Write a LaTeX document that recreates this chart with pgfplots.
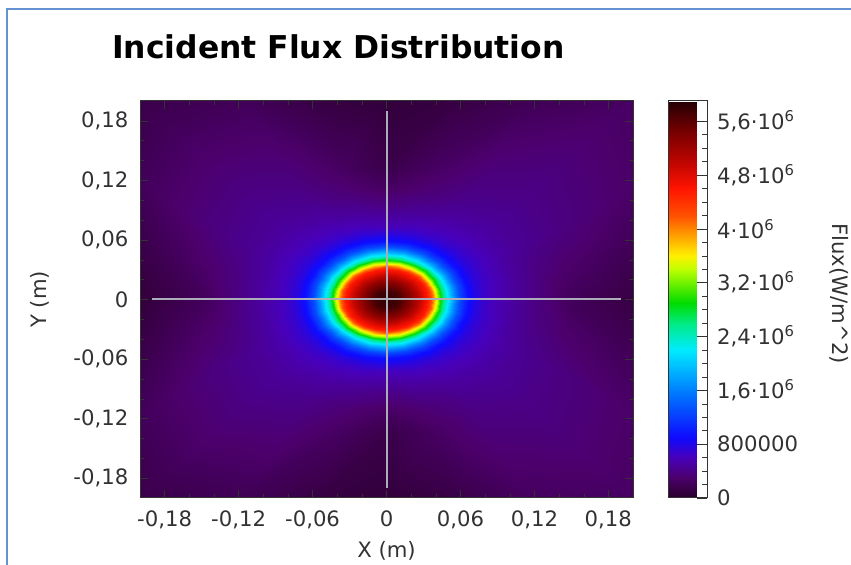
\documentclass[border=0pt]{standalone}
\usepackage{fontspec}
\setmainfont{DejaVu Sans}
\usepackage{pgfplots}
\pgfplotsset{compat=1.18}
\definecolor{labgray}{RGB}{50,50,50}
\definecolor{frameblue}{RGB}{100,145,210}
\definecolor{crossgray}{RGB}{172,172,186}
\begin{document}
\begin{tikzpicture}
\begin{axis}[
  at={(70pt,33.5pt)}, anchor=south west,
  scale only axis, width=246.5pt, height=198.5pt,
  xmin=-0.2, xmax=0.2, ymin=-0.2, ymax=0.2,
  enlargelimits=false, axis on top, scaled ticks=false,
  xtick={-0.18,-0.12,-0.06,0,0.06,0.12,0.18},
  ytick={-0.18,-0.12,-0.06,0,0.06,0.12,0.18},
  xticklabels={{-0,18},{-0,12},{-0,06},0,{0,06},{0,12},{0,18}},
  yticklabels={{-0,18},{-0,12},{-0,06},0,{0,06},{0,12},{0,18}},
  minor x tick num=2, minor y tick num=2,
  tick align=inside, major tick length=4pt, minor tick length=2pt,
  tick style={black!80},
  axis line style={black!80, line width=0.5pt},
  tick label style={font=\fontsize{10.6}{12}\selectfont, text=labgray},
  xticklabel style={yshift=-2.7pt},
  yticklabel style={xshift=-2.3pt},
  xlabel={X (m)}, ylabel={Y (m)},
  label style={font=\fontsize{10.6}{12}\selectfont, text=labgray},
  xlabel style={at={(axis description cs:0.5,-0.149)}, anchor=base},
  ylabel style={at={(axis description cs:-0.19,0.5)}, anchor=base},
  colormap={flux}{rgb255(0pt)=(42,0,48); rgb255(10pt)=(52,0,62); rgb255(30pt)=(76,0,108); rgb255(60pt)=(72,0,185); rgb255(90pt)=(15,10,255); rgb255(150pt)=(0,110,255); rgb255(220pt)=(0,235,255); rgb255(260pt)=(0,235,130); rgb255(290pt)=(0,220,0); rgb255(340pt)=(190,255,0); rgb255(360pt)=(255,240,0); rgb255(390pt)=(255,160,0); rgb255(420pt)=(255,80,0); rgb255(460pt)=(255,20,0); rgb255(500pt)=(190,5,0); rgb255(550pt)=(110,0,0); rgb255(590pt)=(35,0,5)},
  point meta min=0, point meta max=5900000,
  colorbar,
  colorbar style={
    at={(parent axis.north east)}, anchor=north west, xshift=9pt,
    scale only axis, width=19.5pt, height=198.5pt,
    scaled y ticks=false,
    ytick={0,800000,1600000,2400000,3200000,4000000,4800000,5600000},
    yticklabels={0,800000,{1,6·10\textsuperscript{6}},{2,4·10\textsuperscript{6}},{3,2·10\textsuperscript{6}},{4·10\textsuperscript{6}},{4,8·10\textsuperscript{6}},{5,6·10\textsuperscript{6}}},
    minor y tick num=3,
    ytick pos=right, yticklabel pos=right,
    tick align=inside, major tick length=5pt, minor tick length=2.5pt,
    tick style={black!80},
    axis line style={black!80, line width=0.5pt},
    yticklabel style={font=\fontsize{10.6}{12}\selectfont, text=labgray, xshift=1.5pt},
  },
]
\addplot[surf, shader=interp, mesh/rows=20, mesh/cols=25, point meta=explicit]
table[row sep=\\, x=x, y=y, meta=v] {
x y v\\
0 0 5.85e6\\ 0 0 5.85e6\\ 0 0 5.85e6\\ 0 0 5.85e6\\ 0 0 5.85e6\\ 0 0 5.85e6\\ 0 0 5.85e6\\ 0 0 5.85e6\\ 0 0 5.85e6\\ 0 0 5.85e6\\ 0 0 5.85e6\\ 0 0 5.85e6\\ 0 0 5.85e6\\ 0 0 5.85e6\\ 0 0 5.85e6\\ 0 0 5.85e6\\ 0 0 5.85e6\\ 0 0 5.85e6\\ 0 0 5.85e6\\ 0 0 5.85e6\\ 0 0 5.85e6\\ 0 0 5.85e6\\ 0 0 5.85e6\\ 0 0 5.85e6\\ 0 0 5.85e6\\
0.01 0 5.72e6\\ 0.00966 0.00233 5.72e6\\ 0.00866 0.0045 5.72e6\\ 0.00707 0.00636 5.72e6\\ 0.005 0.00779 5.72e6\\ 0.00259 0.00869 5.72e6\\ 0 0.009 5.72e6\\ -0.00259 0.00869 5.72e6\\ -0.005 0.00779 5.72e6\\ -0.00707 0.00636 5.72e6\\ -0.00866 0.0045 5.72e6\\ -0.00966 0.00233 5.72e6\\ -0.01 0 5.72e6\\ -0.00966 -0.00233 5.72e6\\ -0.00866 -0.0045 5.72e6\\ -0.00707 -0.00636 5.72e6\\ -0.005 -0.00779 5.72e6\\ -0.00259 -0.00869 5.72e6\\ 0 -0.009 5.72e6\\ 0.00259 -0.00869 5.72e6\\ 0.005 -0.00779 5.72e6\\ 0.00707 -0.00636 5.72e6\\ 0.00866 -0.0045 5.72e6\\ 0.00966 -0.00233 5.72e6\\ 0.01 0 5.72e6\\
0.02 0 5.32e6\\ 0.01932 0.00466 5.32e6\\ 0.01732 0.009 5.32e6\\ 0.01414 0.01273 5.32e6\\ 0.01 0.01559 5.32e6\\ 0.00518 0.01739 5.32e6\\ 0 0.018 5.32e6\\ -0.00518 0.01739 5.32e6\\ -0.01 0.01559 5.32e6\\ -0.01414 0.01273 5.32e6\\ -0.01732 0.009 5.32e6\\ -0.01932 0.00466 5.32e6\\ -0.02 0 5.32e6\\ -0.01932 -0.00466 5.32e6\\ -0.01732 -0.009 5.32e6\\ -0.01414 -0.01273 5.32e6\\ -0.01 -0.01559 5.32e6\\ -0.00518 -0.01739 5.32e6\\ 0 -0.018 5.32e6\\ 0.00518 -0.01739 5.32e6\\ 0.01 -0.01559 5.32e6\\ 0.01414 -0.01273 5.32e6\\ 0.01732 -0.009 5.32e6\\ 0.01932 -0.00466 5.32e6\\ 0.02 0 5.32e6\\
0.027 0 4.95e6\\ 0.02608 0.00629 4.95e6\\ 0.02338 0.01215 4.95e6\\ 0.01909 0.01718 4.95e6\\ 0.0135 0.02104 4.95e6\\ 0.00699 0.02347 4.95e6\\ 0 0.0243 4.95e6\\ -0.00699 0.02347 4.95e6\\ -0.0135 0.02104 4.95e6\\ -0.01909 0.01718 4.95e6\\ -0.02338 0.01215 4.95e6\\ -0.02608 0.00629 4.95e6\\ -0.027 0 4.95e6\\ -0.02608 -0.00629 4.95e6\\ -0.02338 -0.01215 4.95e6\\ -0.01909 -0.01718 4.95e6\\ -0.0135 -0.02104 4.95e6\\ -0.00699 -0.02347 4.95e6\\ 0 -0.0243 4.95e6\\ 0.00699 -0.02347 4.95e6\\ 0.0135 -0.02104 4.95e6\\ 0.01909 -0.01718 4.95e6\\ 0.02338 -0.01215 4.95e6\\ 0.02608 -0.00629 4.95e6\\ 0.027 0 4.95e6\\
0.034 0 4.55e6\\ 0.03284 0.00792 4.55e6\\ 0.02944 0.0153 4.55e6\\ 0.02404 0.02164 4.55e6\\ 0.017 0.0265 4.55e6\\ 0.0088 0.02956 4.55e6\\ 0 0.0306 4.55e6\\ -0.0088 0.02956 4.55e6\\ -0.017 0.0265 4.55e6\\ -0.02404 0.02164 4.55e6\\ -0.02944 0.0153 4.55e6\\ -0.03284 0.00792 4.55e6\\ -0.034 0 4.55e6\\ -0.03284 -0.00792 4.55e6\\ -0.02944 -0.0153 4.55e6\\ -0.02404 -0.02164 4.55e6\\ -0.017 -0.0265 4.55e6\\ -0.0088 -0.02956 4.55e6\\ 0 -0.0306 4.55e6\\ 0.0088 -0.02956 4.55e6\\ 0.017 -0.0265 4.55e6\\ 0.02404 -0.02164 4.55e6\\ 0.02944 -0.0153 4.55e6\\ 0.03284 -0.00792 4.55e6\\ 0.034 0 4.55e6\\
0.037 0 4.15e6\\ 0.03574 0.00862 4.15e6\\ 0.03204 0.01665 4.15e6\\ 0.02616 0.02355 4.15e6\\ 0.0185 0.02884 4.15e6\\ 0.00958 0.03216 4.15e6\\ 0 0.0333 4.15e6\\ -0.00958 0.03216 4.15e6\\ -0.0185 0.02884 4.15e6\\ -0.02616 0.02355 4.15e6\\ -0.03204 0.01665 4.15e6\\ -0.03574 0.00862 4.15e6\\ -0.037 0 4.15e6\\ -0.03574 -0.00862 4.15e6\\ -0.03204 -0.01665 4.15e6\\ -0.02616 -0.02355 4.15e6\\ -0.0185 -0.02884 4.15e6\\ -0.00958 -0.03216 4.15e6\\ 0 -0.0333 4.15e6\\ 0.00958 -0.03216 4.15e6\\ 0.0185 -0.02884 4.15e6\\ 0.02616 -0.02355 4.15e6\\ 0.03204 -0.01665 4.15e6\\ 0.03574 -0.00862 4.15e6\\ 0.037 0 4.15e6\\
0.04 0 3.65e6\\ 0.03864 0.00932 3.65e6\\ 0.03464 0.018 3.65e6\\ 0.02828 0.02546 3.65e6\\ 0.02 0.03118 3.65e6\\ 0.01035 0.03477 3.65e6\\ 0 0.036 3.65e6\\ -0.01035 0.03477 3.65e6\\ -0.02 0.03118 3.65e6\\ -0.02828 0.02546 3.65e6\\ -0.03464 0.018 3.65e6\\ -0.03864 0.00932 3.65e6\\ -0.04 0 3.65e6\\ -0.03864 -0.00932 3.65e6\\ -0.03464 -0.018 3.65e6\\ -0.02828 -0.02546 3.65e6\\ -0.02 -0.03118 3.65e6\\ -0.01035 -0.03477 3.65e6\\ 0 -0.036 3.65e6\\ 0.01035 -0.03477 3.65e6\\ 0.02 -0.03118 3.65e6\\ 0.02828 -0.02546 3.65e6\\ 0.03464 -0.018 3.65e6\\ 0.03864 -0.00932 3.65e6\\ 0.04 0 3.65e6\\
0.043 0 3.10e6\\ 0.04153 0.01002 3.10e6\\ 0.03724 0.01935 3.10e6\\ 0.03041 0.02736 3.10e6\\ 0.0215 0.03351 3.10e6\\ 0.01113 0.03738 3.10e6\\ 0 0.0387 3.10e6\\ -0.01113 0.03738 3.10e6\\ -0.0215 0.03351 3.10e6\\ -0.03041 0.02736 3.10e6\\ -0.03724 0.01935 3.10e6\\ -0.04153 0.01002 3.10e6\\ -0.043 0 3.10e6\\ -0.04153 -0.01002 3.10e6\\ -0.03724 -0.01935 3.10e6\\ -0.03041 -0.02736 3.10e6\\ -0.0215 -0.03351 3.10e6\\ -0.01113 -0.03738 3.10e6\\ 0 -0.0387 3.10e6\\ 0.01113 -0.03738 3.10e6\\ 0.0215 -0.03351 3.10e6\\ 0.03041 -0.02736 3.10e6\\ 0.03724 -0.01935 3.10e6\\ 0.04153 -0.01002 3.10e6\\ 0.043 0 3.10e6\\
0.046 0 2.65e6\\ 0.04443 0.01071 2.65e6\\ 0.03984 0.0207 2.65e6\\ 0.03253 0.02927 2.65e6\\ 0.023 0.03585 2.65e6\\ 0.0119 0.03999 2.65e6\\ 0 0.0414 2.65e6\\ -0.0119 0.03999 2.65e6\\ -0.023 0.03585 2.65e6\\ -0.03253 0.02927 2.65e6\\ -0.03984 0.0207 2.65e6\\ -0.04443 0.01071 2.65e6\\ -0.046 0 2.65e6\\ -0.04443 -0.01071 2.65e6\\ -0.03984 -0.0207 2.65e6\\ -0.03253 -0.02927 2.65e6\\ -0.023 -0.03585 2.65e6\\ -0.0119 -0.03999 2.65e6\\ 0 -0.0414 2.65e6\\ 0.0119 -0.03999 2.65e6\\ 0.023 -0.03585 2.65e6\\ 0.03253 -0.02927 2.65e6\\ 0.03984 -0.0207 2.65e6\\ 0.04443 -0.01071 2.65e6\\ 0.046 0 2.65e6\\
0.05 0 2.20e6\\ 0.0483 0.01165 2.20e6\\ 0.0433 0.0225 2.20e6\\ 0.03536 0.03182 2.20e6\\ 0.025 0.03897 2.20e6\\ 0.01294 0.04347 2.20e6\\ 0 0.045 2.20e6\\ -0.01294 0.04347 2.20e6\\ -0.025 0.03897 2.20e6\\ -0.03536 0.03182 2.20e6\\ -0.0433 0.0225 2.20e6\\ -0.0483 0.01165 2.20e6\\ -0.05 0 2.20e6\\ -0.0483 -0.01165 2.20e6\\ -0.0433 -0.0225 2.20e6\\ -0.03536 -0.03182 2.20e6\\ -0.025 -0.03897 2.20e6\\ -0.01294 -0.04347 2.20e6\\ 0 -0.045 2.20e6\\ 0.01294 -0.04347 2.20e6\\ 0.025 -0.03897 2.20e6\\ 0.03536 -0.03182 2.20e6\\ 0.0433 -0.0225 2.20e6\\ 0.0483 -0.01165 2.20e6\\ 0.05 0 2.20e6\\
0.055 0 1.70e6\\ 0.05312 0.01281 1.70e6\\ 0.04763 0.02475 1.70e6\\ 0.03889 0.035 1.70e6\\ 0.0275 0.04287 1.70e6\\ 0.01423 0.04781 1.70e6\\ 0 0.0495 1.70e6\\ -0.01423 0.04781 1.70e6\\ -0.0275 0.04287 1.70e6\\ -0.03889 0.035 1.70e6\\ -0.04763 0.02475 1.70e6\\ -0.05312 0.01281 1.70e6\\ -0.055 0 1.70e6\\ -0.05312 -0.01281 1.70e6\\ -0.04763 -0.02475 1.70e6\\ -0.03889 -0.035 1.70e6\\ -0.0275 -0.04287 1.70e6\\ -0.01423 -0.04781 1.70e6\\ 0 -0.0495 1.70e6\\ 0.01423 -0.04781 1.70e6\\ 0.0275 -0.04287 1.70e6\\ 0.03889 -0.035 1.70e6\\ 0.04763 -0.02475 1.70e6\\ 0.05312 -0.01281 1.70e6\\ 0.055 0 1.70e6\\
0.06 0 1.28e6\\ 0.05795 0.01398 1.28e6\\ 0.05196 0.027 1.28e6\\ 0.04243 0.03818 1.28e6\\ 0.03 0.04676 1.28e6\\ 0.01553 0.05216 1.28e6\\ 0 0.054 1.28e6\\ -0.01553 0.05216 1.28e6\\ -0.03 0.04676 1.28e6\\ -0.04243 0.03818 1.28e6\\ -0.05196 0.027 1.28e6\\ -0.05795 0.01398 1.28e6\\ -0.06 0 1.28e6\\ -0.05795 -0.01398 1.28e6\\ -0.05196 -0.027 1.28e6\\ -0.04243 -0.03818 1.28e6\\ -0.03 -0.04676 1.28e6\\ -0.01553 -0.05216 1.28e6\\ 0 -0.054 1.28e6\\ 0.01553 -0.05216 1.28e6\\ 0.03 -0.04676 1.28e6\\ 0.04243 -0.03818 1.28e6\\ 0.05196 -0.027 1.28e6\\ 0.05795 -0.01398 1.28e6\\ 0.06 0 1.28e6\\
0.066 0 0.95e6\\ 0.06375 0.01537 0.95e6\\ 0.05716 0.0297 0.95e6\\ 0.04667 0.042 0.95e6\\ 0.033 0.05144 0.95e6\\ 0.01708 0.05737 0.95e6\\ 0 0.0594 0.95e6\\ -0.01708 0.05737 0.95e6\\ -0.033 0.05144 0.95e6\\ -0.04667 0.042 0.95e6\\ -0.05716 0.0297 0.95e6\\ -0.06375 0.01537 0.95e6\\ -0.066 0 0.95e6\\ -0.06375 -0.01537 0.95e6\\ -0.05716 -0.0297 0.95e6\\ -0.04667 -0.042 0.95e6\\ -0.033 -0.05144 0.95e6\\ -0.01708 -0.05737 0.95e6\\ 0 -0.0594 0.95e6\\ 0.01708 -0.05737 0.95e6\\ 0.033 -0.05144 0.95e6\\ 0.04667 -0.042 0.95e6\\ 0.05716 -0.0297 0.95e6\\ 0.06375 -0.01537 0.95e6\\ 0.066 0 0.95e6\\
0.073 0 0.78e6\\ 0.07051 0.017 0.78e6\\ 0.06322 0.03285 0.79e6\\ 0.05162 0.04646 0.79e6\\ 0.0365 0.0569 0.78e6\\ 0.01889 0.06346 0.77e6\\ 0 0.0657 0.76e6\\ -0.01889 0.06346 0.77e6\\ -0.0365 0.0569 0.78e6\\ -0.05162 0.04646 0.79e6\\ -0.06322 0.03285 0.79e6\\ -0.07051 0.017 0.78e6\\ -0.073 0 0.78e6\\ -0.07051 -0.017 0.78e6\\ -0.06322 -0.03285 0.79e6\\ -0.05162 -0.04646 0.79e6\\ -0.0365 -0.0569 0.78e6\\ -0.01889 -0.06346 0.77e6\\ 0 -0.0657 0.76e6\\ 0.01889 -0.06346 0.77e6\\ 0.0365 -0.0569 0.78e6\\ 0.05162 -0.04646 0.79e6\\ 0.06322 -0.03285 0.79e6\\ 0.07051 -0.017 0.78e6\\ 0.073 0 0.78e6\\
0.08 0 0.66e6\\ 0.07727 0.01863 0.67e6\\ 0.06928 0.036 0.69e6\\ 0.05657 0.05091 0.69e6\\ 0.04 0.06235 0.67e6\\ 0.0207 0.06954 0.65e6\\ 0 0.072 0.62e6\\ -0.0207 0.06954 0.65e6\\ -0.04 0.06235 0.67e6\\ -0.05657 0.05091 0.69e6\\ -0.06928 0.036 0.69e6\\ -0.07727 0.01863 0.67e6\\ -0.08 0 0.66e6\\ -0.07727 -0.01863 0.67e6\\ -0.06928 -0.036 0.69e6\\ -0.05657 -0.05091 0.69e6\\ -0.04 -0.06235 0.67e6\\ -0.0207 -0.06954 0.65e6\\ 0 -0.072 0.62e6\\ 0.0207 -0.06954 0.65e6\\ 0.04 -0.06235 0.67e6\\ 0.05657 -0.05091 0.69e6\\ 0.06928 -0.036 0.69e6\\ 0.07727 -0.01863 0.67e6\\ 0.08 0 0.66e6\\
0.09 0 0.58e6\\ 0.08693 0.02096 0.59e6\\ 0.07794 0.0405 0.61e6\\ 0.06364 0.05728 0.61e6\\ 0.045 0.07015 0.59e6\\ 0.02329 0.07824 0.56e6\\ 0 0.081 0.52e6\\ -0.02329 0.07824 0.56e6\\ -0.045 0.07015 0.59e6\\ -0.06364 0.05728 0.61e6\\ -0.07794 0.0405 0.61e6\\ -0.08693 0.02096 0.59e6\\ -0.09 0 0.58e6\\ -0.08693 -0.02096 0.59e6\\ -0.07794 -0.0405 0.61e6\\ -0.06364 -0.05728 0.61e6\\ -0.045 -0.07015 0.59e6\\ -0.02329 -0.07824 0.56e6\\ 0 -0.081 0.52e6\\ 0.02329 -0.07824 0.56e6\\ 0.045 -0.07015 0.59e6\\ 0.06364 -0.05728 0.61e6\\ 0.07794 -0.0405 0.61e6\\ 0.08693 -0.02096 0.59e6\\ 0.09 0 0.58e6\\
0.105 0 0.48e6\\ 0.10142 0.02446 0.49e6\\ 0.09093 0.04725 0.52e6\\ 0.07425 0.06682 0.53e6\\ 0.0525 0.08184 0.50e6\\ 0.02717 0.09128 0.45e6\\ 0 0.0945 0.40e6\\ -0.02717 0.09128 0.45e6\\ -0.0525 0.08184 0.50e6\\ -0.07425 0.06682 0.53e6\\ -0.09093 0.04725 0.52e6\\ -0.10142 0.02446 0.49e6\\ -0.105 0 0.48e6\\ -0.10142 -0.02446 0.49e6\\ -0.09093 -0.04725 0.52e6\\ -0.07425 -0.06682 0.53e6\\ -0.0525 -0.08184 0.50e6\\ -0.02717 -0.09128 0.45e6\\ 0 -0.0945 0.40e6\\ 0.02717 -0.09128 0.45e6\\ 0.0525 -0.08184 0.50e6\\ 0.07425 -0.06682 0.53e6\\ 0.09093 -0.04725 0.52e6\\ 0.10142 -0.02446 0.49e6\\ 0.105 0 0.48e6\\
0.125 0 0.36e6\\ 0.12074 0.02912 0.39e6\\ 0.10825 0.05625 0.45e6\\ 0.08839 0.07955 0.47e6\\ 0.0625 0.09743 0.43e6\\ 0.03235 0.10866 0.34e6\\ 0 0.1125 0.26e6\\ -0.03235 0.10866 0.34e6\\ -0.0625 0.09743 0.43e6\\ -0.08839 0.07955 0.47e6\\ -0.10825 0.05625 0.45e6\\ -0.12074 0.02912 0.39e6\\ -0.125 0 0.36e6\\ -0.12074 -0.02912 0.39e6\\ -0.10825 -0.05625 0.45e6\\ -0.08839 -0.07955 0.47e6\\ -0.0625 -0.09743 0.43e6\\ -0.03235 -0.10866 0.34e6\\ 0 -0.1125 0.26e6\\ 0.03235 -0.10866 0.34e6\\ 0.0625 -0.09743 0.43e6\\ 0.08839 -0.07955 0.47e6\\ 0.10825 -0.05625 0.45e6\\ 0.12074 -0.02912 0.39e6\\ 0.125 0 0.36e6\\
0.15 0 0.22e6\\ 0.14489 0.03494 0.30e6\\ 0.1299 0.0675 0.40e6\\ 0.10607 0.09546 0.42e6\\ 0.075 0.11691 0.38e6\\ 0.03882 0.1304 0.26e6\\ 0 0.135 0.15e6\\ -0.03882 0.1304 0.26e6\\ -0.075 0.11691 0.38e6\\ -0.10607 0.09546 0.42e6\\ -0.1299 0.0675 0.40e6\\ -0.14489 0.03494 0.30e6\\ -0.15 0 0.22e6\\ -0.14489 -0.03494 0.30e6\\ -0.1299 -0.0675 0.40e6\\ -0.10607 -0.09546 0.42e6\\ -0.075 -0.11691 0.38e6\\ -0.03882 -0.1304 0.26e6\\ 0 -0.135 0.15e6\\ 0.03882 -0.1304 0.26e6\\ 0.075 -0.11691 0.38e6\\ 0.10607 -0.09546 0.42e6\\ 0.1299 -0.0675 0.40e6\\ 0.14489 -0.03494 0.30e6\\ 0.15 0 0.22e6\\
0.2 0 0.12e6\\ 0.2 0.0536 0.20e6\\ 0.2 0.1155 0.28e6\\ 0.2 0.2 0.25e6\\ 0.1155 0.2 0.20e6\\ 0.0536 0.2 0.12e6\\ 0 0.2 0.08e6\\ -0.0536 0.2 0.12e6\\ -0.1155 0.2 0.22e6\\ -0.2 0.2 0.15e6\\ -0.2 0.1155 0.22e6\\ -0.2 0.0536 0.15e6\\ -0.2 0 0.08e6\\ -0.2 -0.0536 0.15e6\\ -0.2 -0.1155 0.22e6\\ -0.2 -0.2 0.15e6\\ -0.1155 -0.2 0.20e6\\ -0.0536 -0.2 0.12e6\\ 0 -0.2 0.08e6\\ 0.0536 -0.2 0.14e6\\ 0.1155 -0.2 0.24e6\\ 0.2 -0.2 0.25e6\\ 0.2 -0.1155 0.28e6\\ 0.2 -0.0536 0.20e6\\ 0.2 0 0.12e6\\
};
\addplot[crossgray, line width=1pt] coordinates {(0,-0.19) (0,0.19)};
\addplot[crossgray, line width=1pt] coordinates {(-0.19,0) (0.19,0)};
\end{axis}
\node[anchor=base west, inner sep=0pt, font=\bfseries\fontsize{15.7}{19}\selectfont] at (55.85pt,253.35pt) {Incident Flux Distribution};
\node[rotate=-90, inner sep=0pt, font=\fontsize{10.6}{12}\selectfont, text=labgray] at (419.5pt,135.75pt) {Flux(W/m\textasciicircum 2)};
\draw[frameblue, line width=1pt] (3.5pt,0pt) -- (3.5pt,278pt) -- (425.5pt,278pt);
\pgfresetboundingbox
\path[use as bounding box] (0pt,0pt) rectangle (425.5pt,282.5pt);
\end{tikzpicture}
\end{document}
